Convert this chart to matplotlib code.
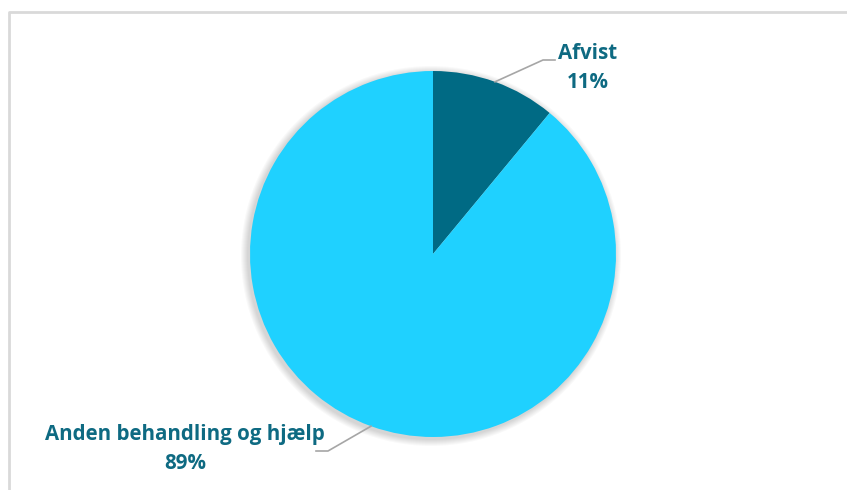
import numpy as np
import matplotlib
matplotlib.use("Agg")
import matplotlib.pyplot as plt
from matplotlib.patches import Circle

labels = ["Afvist", "Anden behandling og hjælp"]
shares = [11, 89]
colors = ["#006A84", "#1FD1FF"]

text_color = "#0E6A82"
line_color = "#A6A6A6"

W, H = 847, 490
fig = plt.figure(figsize=(W / 100, H / 100), dpi=100)
ax = fig.add_axes([0, 0, 1, 1])

# chart frame (top and left edge visible)
ax.plot([9, 9, W], [0, H - 12, H - 12], color="#D9D9D9", lw=2, solid_capstyle="butt")

cx, cy, r = 433, H - 254, 183

# soft shadow behind the pie
for i in range(7):
    ax.add_patch(Circle((cx - 2, cy - 2), r + 1 + i, color="black",
                        alpha=0.022, lw=0, zorder=1))

wedges, _ = ax.pie(shares, colors=colors, startangle=90, counterclock=False,
                   center=(cx, cy), radius=r, frame=True,
                   wedgeprops=dict(linewidth=0, zorder=2))
ax.set_xlim(0, W)
ax.set_ylim(0, H)
ax.set_aspect("equal")
ax.axis("off")

# label layout: elbow point, end of horizontal run, text centre
layout = [
    dict(elbow=(543, H - 60), end=(555, H - 60), text=(588, H - 68)),
    dict(elbow=(328, H - 451), end=(316, H - 451), text=(185, H - 449)),
]

for w, lab, val, lay in zip(wedges, labels, shares, layout):
    mid = np.deg2rad((w.theta1 + w.theta2) / 2)
    px = cx + r * np.cos(mid)
    py = cy + r * np.sin(mid)
    ex, ey = lay["elbow"]
    tx, ty = lay["end"]
    ax.plot([px, ex, tx], [py, ey, ty], color=line_color, lw=1.2, zorder=3)
    ax.text(lay["text"][0], lay["text"][1], f"{lab}\n{val}%", ha="center", va="center",
            color=text_color, fontsize=14.8, fontweight="bold",
            family="Open Sans", linespacing=1.5, zorder=4)

fig.savefig("out.png", dpi=100)
